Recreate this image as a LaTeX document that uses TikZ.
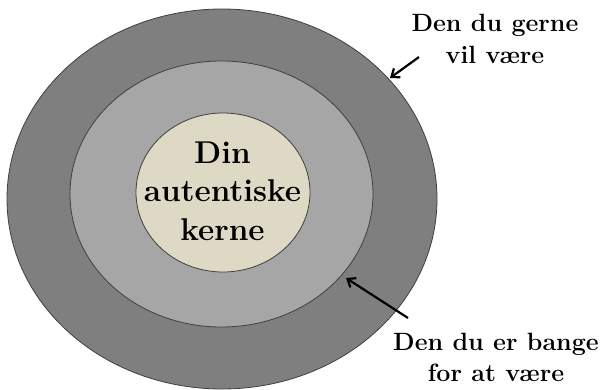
\documentclass[tikz,border=0pt]{standalone}
\usetikzlibrary{shapes.geometric,arrows.meta}
\definecolor{ringout}{HTML}{7F7F7F}
\definecolor{ringmid}{HTML}{A6A6A6}
\definecolor{core}{HTML}{DDD9C4}
\definecolor{edge}{HTML}{3F3F3F}
\begin{document}
\begin{tikzpicture}[x=1pt,y=-1pt,
  ring/.style={ellipse,draw=edge,line width=0.8pt,inner sep=0pt},
  lbl/.style={inner sep=0pt,align=center,font=\bfseries\fontsize{25}{31.5}\selectfont},
  pointer/.style={line width=2.2pt,-{Straight Barb[length=7pt,width=11pt,line width=2.2pt]}}]
\useasboundingbox (0,0) rectangle (602,390);
\fill[white] (0,0) rectangle (602,390);
\node[ring,fill=ringout,minimum width=430pt,minimum height=380pt] (outer) at (222,199) {};
\node[ring,fill=ringmid,minimum width=303pt,minimum height=266pt] (middle) at (221.5,194) {};
\node[ring,fill=core,minimum width=174pt,minimum height=159pt] (inner) at (223,192.5) {};
\node[inner sep=0pt,align=center,font=\bfseries\fontsize{31.5}{38.5}\selectfont] (coretext) at (222.5,191) {Din\\autentiske\\kerne};
\node[lbl] (top) at (495,39) {Den du gerne\\vil være};
\node[lbl] (bottom) at (496,357.4) {Den du er bange\\for at være};
\coordinate (t1) at (419,57);
\coordinate (h1) at (390,78);
\coordinate (t2) at (408,318);
\coordinate (h2) at (346,278);
\draw[pointer] (t1) -- (h1);
\draw[pointer] (t2) -- (h2);
\end{tikzpicture}
\end{document}
